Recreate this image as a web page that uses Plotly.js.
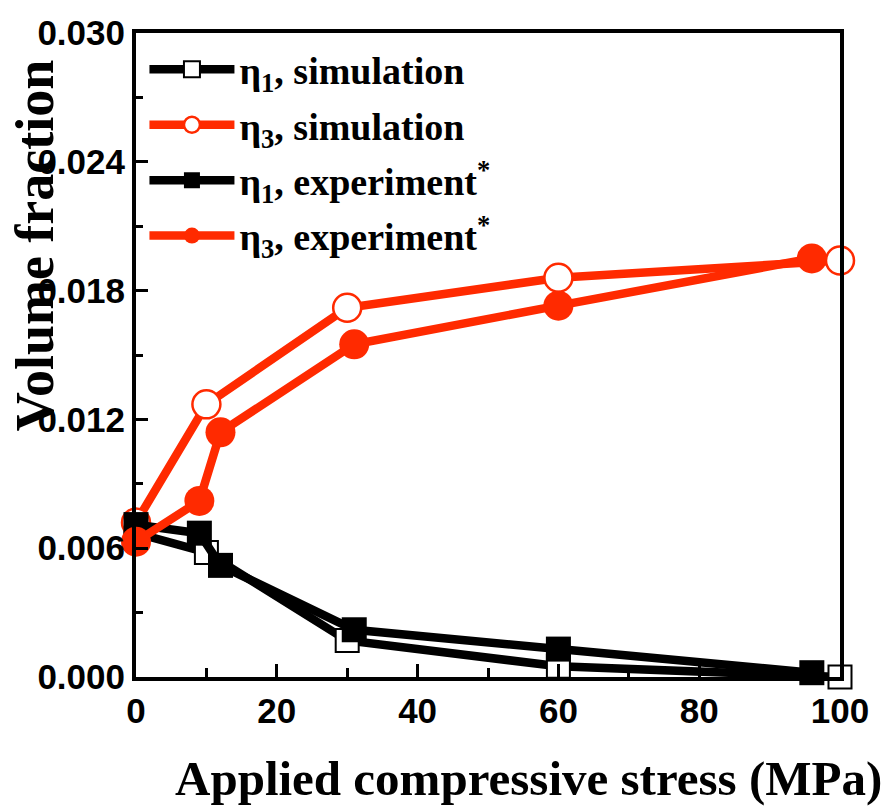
<!DOCTYPE html>
<html>
<head>
<meta charset="utf-8">
<script src="https://cdn.plot.ly/plotly-3.0.1.min.js"></script>
<style>html,body{margin:0;padding:0;background:#fff;}#chart{width:890px;height:808px;}</style>
</head>
<body>
<div id="chart"></div>
<script>
// Data
const stressSim = [0, 10, 30, 60, 100];
const eta1Sim = [0.0067, 0.0058, 0.0017, 0.0005, 0.0000];
const eta3Sim = [0.0072, 0.0127, 0.0172, 0.0186, 0.0194];
const stressExp = [0, 9, 12, 31, 60, 96];
const eta1Exp = [0.0071, 0.0067, 0.0052, 0.0022, 0.0013, 0.0002];
const eta3Exp = [0.0063, 0.0082, 0.0114, 0.0155, 0.0173, 0.0195];
const seriesNames = ['η<sub>1</sub>, simulation', 'η<sub>3</sub>, simulation', 'η<sub>1</sub>, experiment<sup>*</sup>', 'η<sub>3</sub>, experiment<sup>*</sup>'];
const xTitle = 'Applied compressive stress (MPa)';
const yTitle = 'Volume fraction';

const BLACK = '#000000';
const RED = '#ff2a00';

const traces = [
  {x: stressSim, y: eta1Sim, name: seriesNames[0], mode: 'lines+markers', legendgroup: 'a',
   line: {color: BLACK, width: 8.5},
   marker: {symbol: 'square', size: 23, color: '#ffffff', line: {color: BLACK, width: 2}}},
  {x: stressSim, y: eta3Sim, name: seriesNames[1], mode: 'lines+markers', legendgroup: 'b',
   line: {color: RED, width: 8.5},
   marker: {symbol: 'circle', size: 28, color: '#ffffff', line: {color: RED, width: 2.5}}},
  {x: stressExp, y: eta1Exp, name: seriesNames[2], mode: 'lines+markers', legendgroup: 'c',
   line: {color: BLACK, width: 8.5},
   marker: {symbol: 'square', size: 25, color: BLACK, line: {color: BLACK, width: 0}}},
  {x: stressExp, y: eta3Exp, name: seriesNames[3], mode: 'lines+markers', legendgroup: 'd',
   line: {color: RED, width: 8.5},
   marker: {symbol: 'circle', size: 30, color: RED, line: {color: RED, width: 0}}}
];
traces.forEach(t => { t.cliponaxis = false; });

const tickFont = {family: 'Liberation Sans, Arial, sans-serif', size: 35, color: BLACK, weight: 'bold'};
const serif = 'Liberation Serif, Times New Roman, serif';

const layout = {
  width: 890, height: 808,
  margin: {l: 136, r: 50, t: 33, b: 131},
  paper_bgcolor: '#ffffff', plot_bgcolor: '#ffffff',
  showlegend: true,
  legend: {
    x: 0.012, y: 0.992, xanchor: 'left', yanchor: 'top',
    bgcolor: 'rgba(0,0,0,0)', borderwidth: 0,
    font: {family: serif, size: 38, color: BLACK, weight: 'bold'},
    itemwidth: 85, tracegroupgap: 3, itemsizing: 'trace'
  },
  xaxis: {
    range: [0, 100], tickvals: [0, 20, 40, 60, 80, 100],
    ticks: 'inside', ticklen: 13, tickwidth: 3, tickcolor: BLACK,
    minor: {dtick: 10, ticks: 'inside', ticklen: 9, tickwidth: 3, tickcolor: BLACK},
    showline: true, linewidth: 4, linecolor: BLACK, mirror: true,
    showgrid: false, zeroline: false, tickfont: tickFont
  },
  yaxis: {
    range: [0, 0.030], tickvals: [0, 0.006, 0.012, 0.018, 0.024, 0.030], tickformat: '.3f',
    ticks: 'inside', ticklen: 12, tickwidth: 3, tickcolor: BLACK,
    minor: {dtick: 0.003, ticks: 'inside', ticklen: 7, tickwidth: 3, tickcolor: BLACK},
    showline: true, linewidth: 4, linecolor: BLACK, mirror: true,
    showgrid: false, zeroline: false, tickfont: tickFont
  },
  annotations: [
    {text: '<b>' + xTitle + '</b>', xref: 'paper', yref: 'paper', x: 0.557, y: -0.158,
     xanchor: 'center', yanchor: 'middle', showarrow: false,
     font: {family: serif, size: 49, color: BLACK}},
    {text: '<b>' + yTitle + '</b>', xref: 'paper', yref: 'paper', x: 0, xshift: -101, y: 0.669,
     xanchor: 'center', yanchor: 'middle', textangle: -90, showarrow: false,
     font: {family: serif, size: 54, color: BLACK}}
  ]
};

Plotly.newPlot('chart', traces, layout, {displayModeBar: false, staticPlot: true});
</script>
</body>
</html>
